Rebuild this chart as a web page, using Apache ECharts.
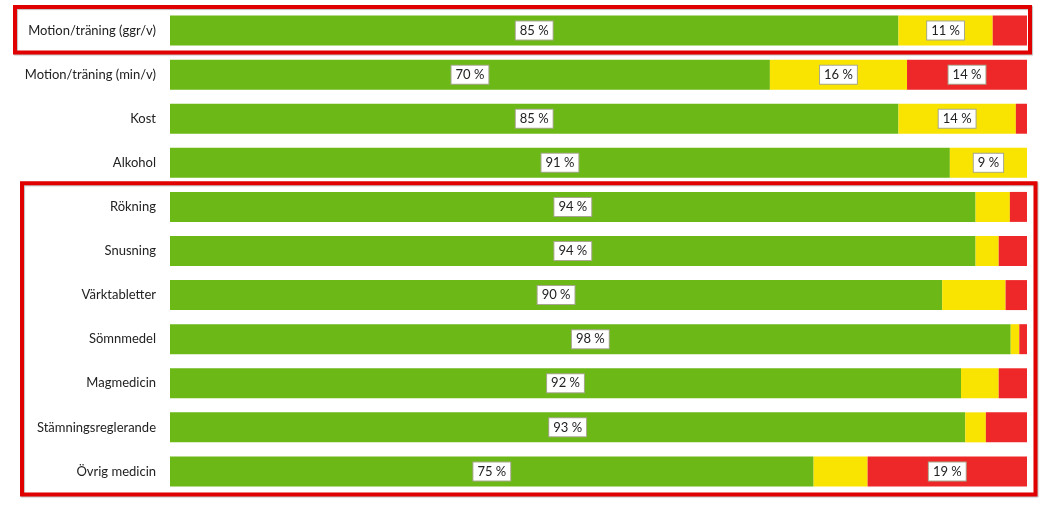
<!DOCTYPE html>
<html>
<head>
<meta charset="utf-8">
<script src="https://cdn.jsdelivr.net/npm/echarts@6/dist/echarts.min.js"></script>
<style>
html,body{margin:0;padding:0;background:#fff;}
#chart{width:1048px;height:507px;}
</style>
</head>
<body>
<div id="chart"></div>
<script>
const categories = ['Motion/träning (ggr/v)','Motion/träning (min/v)','Kost','Alkohol','Rökning','Snusning','Värktabletter','Sömnmedel','Magmedicin','Stämningsreglerande','Övrig medicin'];
const greenValues  = [85, 70, 85, 91, 94, 94, 90.1, 98.1, 92.3, 92.8, 75.1];
const yellowValues = [11, 16, 13.7, 9, 4, 2.7, 7.4, 1.0, 4.4, 2.4, 6.3];
const redValues    = [4, 14, 1.3, 0, 2, 3.3, 2.5, 0.9, 3.3, 4.8, 18.6];
const boxGroups = [[0, 0], [4, 10]];

const chart = echarts.init(document.getElementById('chart'));
const FONT = 'Lato, "Open Sans", sans-serif';

function mkData(arr) {
  return arr.map(v => ({ value: v, label: { show: v >= 8 } }));
}
const labelStyle = {
  position: 'inside',
  formatter: p => Math.round(p.value) + ' %',
  color: '#222',
  fontFamily: FONT,
  fontSize: 13,
  backgroundColor: '#fff',
  borderColor: '#a8a890',
  borderWidth: 1,
  padding: [3, 4, 2, 4]
};
function series(name, arr, color) {
  return {
    name, type: 'bar', stack: 'total', data: mkData(arr),
    barWidth: '68%', itemStyle: { color },
    label: labelStyle, emphasis: { disabled: true }, animation: false
  };
}

chart.setOption({
  animation: false,
  grid: { left: 170, right: 21, top: 8.5, bottom: 13.5 },
  xAxis: { type: 'value', min: 0, max: 100, show: false },
  yAxis: {
    type: 'category', data: categories, inverse: true,
    axisLine: { show: false }, axisTick: { show: false },
    axisLabel: { color: '#222', fontFamily: FONT, fontSize: 13, margin: 14 }
  },
  series: [
    series('green', greenValues, '#6cb817'),
    series('yellow', yellowValues, '#f9e300'),
    series('red', redValues, '#ee2828')
  ]
});

function drawBoxes() {
  const band = chart.convertToPixel({ yAxisIndex: 0 }, 1) - chart.convertToPixel({ yAxisIndex: 0 }, 0);
  const x100 = chart.convertToPixel({ xAxisIndex: 0 }, 100);
  const x0 = chart.convertToPixel({ xAxisIndex: 0 }, 0);
  const offsets = [[-155, 3], [-148, 8.5]];
  const graphics = boxGroups.map((g, i) => {
    const yTop = chart.convertToPixel({ yAxisIndex: 0 }, g[0]) - band / 2;
    const yBot = chart.convertToPixel({ yAxisIndex: 0 }, g[1]) + band / 2 + (i === 1 ? 1 : 0);
    const xl = x0 + offsets[i][0];
    const xr = x100 + offsets[i][1];
    return {
      type: 'rect', silent: true,
      shape: { x: xl, y: yTop - 1.5, width: xr - xl, height: yBot - yTop + 1.5 },
      style: { fill: 'none', stroke: '#e00000', lineWidth: 4,
        shadowColor: 'rgba(0,0,0,0.25)', shadowBlur: 1, shadowOffsetX: 1, shadowOffsetY: 1 }
    };
  });
  chart.setOption({ graphic: graphics });
}
drawBoxes();
</script>
</body>
</html>
